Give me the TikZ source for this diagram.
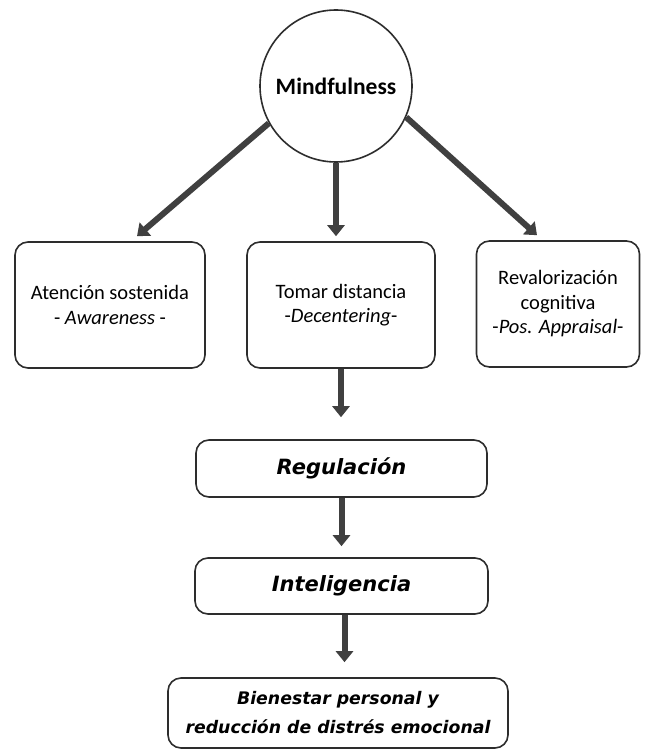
\documentclass[tikz,border=0pt]{standalone}
\usepackage{fontspec}
\setmainfont{Carlito}
\newfontfamily\heavyfont{DejaVu Sans}
\usetikzlibrary{arrows.meta}
\definecolor{arrowgray}{RGB}{64,64,64}
\definecolor{linegray}{RGB}{45,45,45}

\begin{document}
\begin{tikzpicture}[x=1pt,y=-1pt,
    box/.style={draw=linegray,line width=1.6pt,rounded corners=13pt,align=center,inner sep=0pt,fill=white},
    topbox/.style={box,minimum height=126pt,font=\fontsize{20.5}{24.5}\selectfont},
    flowbox/.style={box,font=\heavyfont\bfseries\itshape\fontsize{21}{29}\selectfont},
    thickarrow/.style={draw=arrowgray,line width=6pt,-{Triangle[width=17pt,length=11pt]}}]
    \useasboundingbox (0,0) rectangle (656,751);
    \node[draw=linegray,line width=1.6pt,circle,minimum size=152pt,inner sep=0pt,
      font=\bfseries\fontsize{23.5}{24}\selectfont] (mind) at (336,86) {Mindfulness};
    \node[topbox,minimum width=190pt] (atencion) at (110,305) {Atención sostenida\\- \textit{Awareness} -};
    \node[topbox,minimum width=188pt] (distancia) at (341,305) {Tomar distancia\\-\textit{Decentering}-};
    \node[topbox,minimum width=163pt] (revalor) at (558,304) {Revalorización\\cognitiva\\-\textit{Pos. Appraisal}-};
    \node[flowbox,minimum width=291pt,minimum height=57pt] (regulacion) at (341.5,468.5) {Regulación};
    \node[flowbox,minimum width=293pt,minimum height=56pt] (inteligencia) at (341.5,586) {Inteligencia};
    \node[flowbox,minimum width=340pt,minimum height=70pt,font=\heavyfont\bfseries\itshape\fontsize{17.3}{29}\selectfont]
      (bienestar) at (338,713) {Bienestar personal y\\reducción de distrés emocional};
    \coordinate (tipA) at ([xshift=27pt,yshift=5pt]atencion.north);
    \coordinate (tipR) at ([xshift=-21pt,yshift=5pt]revalor.north);
    \draw[thickarrow] (mind.209) -- (tipA);
    \draw[thickarrow] (mind.south) -- ([yshift=5pt]mind.south |- distancia.north);
    \draw[thickarrow] (mind.336) -- (tipR);
    \draw[thickarrow] (distancia.south) -- ([yshift=22pt]distancia.south |- regulacion.north);
    \draw[thickarrow] (regulacion.south) -- ([yshift=11pt]regulacion.north |- inteligencia.north);
    \draw[thickarrow] ([xshift=3pt]inteligencia.south) -- ([xshift=3pt,yshift=15pt]inteligencia.south |- bienestar.north);
  \end{tikzpicture}
\end{document}
